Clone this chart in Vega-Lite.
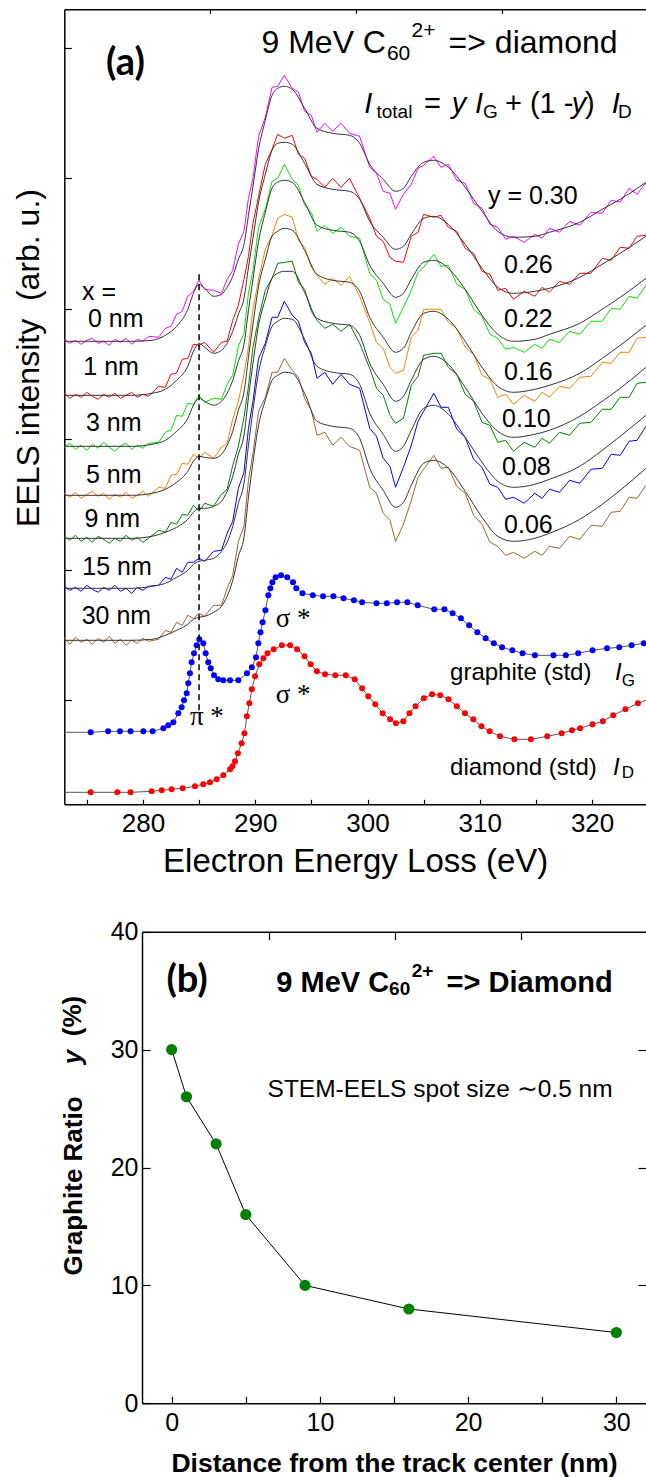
{
"$schema":"https://vega.github.io/schema/vega-lite/v6.json",
"width":646,"height":1477,"autosize":{"type":"none"},"padding":0,"background":"white",
"config":{"view":{"stroke":null},
 "axis":{"grid":false,"domainColor":"#000","tickColor":"#000","labelColor":"#000","titleColor":"#000","labelFont":"Liberation Sans","titleFont":"Liberation Sans","labelFlush":false,"labelOverlap":false,"domainWidth":1.5,"tickWidth":1.2},
 "text":{"font":"Liberation Sans","color":"#000","baseline":"alphabetic","align":"left"}},
"datasets":{
"spec":[
{"c":"m","e":273,"v":465},{"c":"m","e":273.5,"v":461},{"c":"m","e":274,"v":464},{"c":"m","e":274.5,"v":460},{"c":"m","e":275,"v":464},{"c":"m","e":275.5,"v":466},{"c":"m","e":276,"v":461},{"c":"m","e":276.5,"v":463},{"c":"m","e":277,"v":459},{"c":"m","e":277.5,"v":465},{"c":"m","e":278,"v":462},{"c":"m","e":278.5,"v":466},{"c":"m","e":279,"v":460},{"c":"m","e":279.5,"v":465},{"c":"m","e":280,"v":463},{"c":"m","e":280.5,"v":468},{"c":"m","e":281.4,"v":467},{"c":"m","e":282,"v":476},{"c":"m","e":282.5,"v":478},{"c":"m","e":283,"v":490},{"c":"m","e":283.5,"v":493},{"c":"m","e":284,"v":508},{"c":"m","e":284.5,"v":513},{"c":"m","e":285,"v":524},{"c":"m","e":285.5,"v":515},{"c":"m","e":286.3,"v":514},{"c":"m","e":287,"v":511},{"c":"m","e":287.5,"v":525},{"c":"m","e":288,"v":534},{"c":"m","e":288.5,"v":560},{"c":"m","e":289,"v":573},{"c":"m","e":289.4,"v":606},{"c":"m","e":289.8,"v":626},{"c":"m","e":290.3,"v":668},{"c":"m","e":290.9,"v":687},{"c":"m","e":291.5,"v":717},{"c":"m","e":292,"v":718},{"c":"m","e":292.6,"v":729},{"c":"m","e":293.3,"v":716},{"c":"m","e":293.85,"v":712},{"c":"m","e":294.4,"v":693},{"c":"m","e":295,"v":689},{"c":"m","e":295.5,"v":672},{"c":"m","e":296.2,"v":681},{"c":"m","e":296.9,"v":673},{"c":"m","e":297.65,"v":681},{"c":"m","e":298.4,"v":671},{"c":"m","e":299.3,"v":668},{"c":"m","e":300.2,"v":637},{"c":"m","e":300.8,"v":631},{"c":"m","e":301.4,"v":613},{"c":"m","e":302,"v":611},{"c":"m","e":302.5,"v":595},{"c":"m","e":303.2,"v":610},{"c":"m","e":303.9,"v":620},{"c":"m","e":304.5,"v":636},{"c":"m","e":305,"v":639},{"c":"m","e":305.9,"v":648},{"c":"m","e":306.55,"v":637},{"c":"m","e":307.2,"v":640},{"c":"m","e":307.95,"v":624},{"c":"m","e":308.7,"v":621},{"c":"m","e":309.45,"v":601},{"c":"m","e":310.2,"v":596},{"c":"m","e":310.9,"v":580},{"c":"m","e":311.6,"v":577},{"c":"m","e":312.3,"v":565},{"c":"m","e":313,"v":568},{"c":"m","e":313.95,"v":562},{"c":"m","e":314.9,"v":570},{"c":"m","e":315.55,"v":566},{"c":"m","e":316.2,"v":576},{"c":"m","e":317.1,"v":572},{"c":"m","e":318,"v":583},{"c":"m","e":318.9,"v":579},{"c":"m","e":319.9,"v":592},{"c":"m","e":320.9,"v":591},{"c":"m","e":321.7,"v":604},{"c":"m","e":322.5,"v":602},{"c":"m","e":323.3,"v":616},{"c":"m","e":324,"v":610},{"c":"m","e":324.8,"v":622},
{"c":"r","e":273,"v":411},{"c":"r","e":273.5,"v":406},{"c":"r","e":274,"v":410},{"c":"r","e":274.5,"v":407},{"c":"r","e":275,"v":412},{"c":"r","e":275.5,"v":408},{"c":"r","e":276,"v":405},{"c":"r","e":276.5,"v":410},{"c":"r","e":277,"v":407},{"c":"r","e":277.5,"v":411},{"c":"r","e":278,"v":406},{"c":"r","e":278.5,"v":409},{"c":"r","e":279,"v":412},{"c":"r","e":279.5,"v":407},{"c":"r","e":280,"v":410},{"c":"r","e":280.5,"v":408},{"c":"r","e":281.4,"v":418},{"c":"r","e":282,"v":417},{"c":"r","e":282.5,"v":430},{"c":"r","e":283,"v":431},{"c":"r","e":283.5,"v":445},{"c":"r","e":284,"v":446},{"c":"r","e":284.5,"v":460},{"c":"r","e":285,"v":459},{"c":"r","e":285.5,"v":462},{"c":"r","e":286.3,"v":452},{"c":"r","e":287,"v":462},{"c":"r","e":287.5,"v":463},{"c":"r","e":288,"v":484},{"c":"r","e":288.5,"v":499},{"c":"r","e":289,"v":525},{"c":"r","e":289.4,"v":548},{"c":"r","e":289.8,"v":581},{"c":"r","e":290.3,"v":608},{"c":"r","e":290.9,"v":640},{"c":"r","e":291.5,"v":655},{"c":"r","e":292,"v":670},{"c":"r","e":292.6,"v":666},{"c":"r","e":293.3,"v":669},{"c":"r","e":293.85,"v":650},{"c":"r","e":294.4,"v":646},{"c":"r","e":295,"v":628},{"c":"r","e":295.5,"v":625},{"c":"r","e":296.2,"v":617},{"c":"r","e":296.9,"v":626},{"c":"r","e":297.65,"v":617},{"c":"r","e":298.4,"v":626},{"c":"r","e":299.3,"v":606},{"c":"r","e":300.2,"v":586},{"c":"r","e":300.8,"v":568},{"c":"r","e":301.4,"v":563},{"c":"r","e":302,"v":547},{"c":"r","e":302.5,"v":543},{"c":"r","e":303.2,"v":542},{"c":"r","e":303.9,"v":568},{"c":"r","e":304.5,"v":572},{"c":"r","e":305,"v":590},{"c":"r","e":305.9,"v":587},{"c":"r","e":306.55,"v":589},{"c":"r","e":307.2,"v":577},{"c":"r","e":307.95,"v":573},{"c":"r","e":308.7,"v":556},{"c":"r","e":309.45,"v":551},{"c":"r","e":310.2,"v":533},{"c":"r","e":310.9,"v":530},{"c":"r","e":311.6,"v":514},{"c":"r","e":312.3,"v":516},{"c":"r","e":313,"v":505},{"c":"r","e":313.95,"v":513},{"c":"r","e":314.9,"v":508},{"c":"r","e":315.55,"v":517},{"c":"r","e":316.2,"v":512},{"c":"r","e":317.1,"v":523},{"c":"r","e":318,"v":520},{"c":"r","e":318.9,"v":531},{"c":"r","e":319.9,"v":531},{"c":"r","e":320.9,"v":546},{"c":"r","e":321.7,"v":544},{"c":"r","e":322.5,"v":557},{"c":"r","e":323.3,"v":556},{"c":"r","e":324,"v":568},{"c":"r","e":324.8,"v":569},
{"c":"l","e":273,"v":357},{"c":"l","e":273.5,"v":361},{"c":"l","e":274,"v":355},{"c":"l","e":274.5,"v":359},{"c":"l","e":275,"v":354},{"c":"l","e":275.5,"v":360},{"c":"l","e":276,"v":356},{"c":"l","e":276.5,"v":362},{"c":"l","e":277,"v":357},{"c":"l","e":277.5,"v":353},{"c":"l","e":278,"v":358},{"c":"l","e":278.5,"v":361},{"c":"l","e":279,"v":355},{"c":"l","e":279.5,"v":359},{"c":"l","e":280,"v":356},{"c":"l","e":280.5,"v":361},{"c":"l","e":281.4,"v":362},{"c":"l","e":282,"v":372},{"c":"l","e":282.5,"v":374},{"c":"l","e":283,"v":389},{"c":"l","e":283.5,"v":388},{"c":"l","e":284,"v":401},{"c":"l","e":284.5,"v":400},{"c":"l","e":285,"v":409},{"c":"l","e":285.5,"v":402},{"c":"l","e":286.3,"v":406},{"c":"l","e":287,"v":405},{"c":"l","e":287.5,"v":420},{"c":"l","e":288,"v":429},{"c":"l","e":288.5,"v":458},{"c":"l","e":289,"v":471},{"c":"l","e":289.4,"v":511},{"c":"l","e":289.8,"v":534},{"c":"l","e":290.3,"v":577},{"c":"l","e":290.9,"v":595},{"c":"l","e":291.5,"v":623},{"c":"l","e":292,"v":626},{"c":"l","e":292.6,"v":640},{"c":"l","e":293.3,"v":625},{"c":"l","e":293.85,"v":619},{"c":"l","e":294.4,"v":599},{"c":"l","e":295,"v":592},{"c":"l","e":295.5,"v":573},{"c":"l","e":296.2,"v":579},{"c":"l","e":296.9,"v":571},{"c":"l","e":297.65,"v":577},{"c":"l","e":298.4,"v":568},{"c":"l","e":299.3,"v":566},{"c":"l","e":300.2,"v":531},{"c":"l","e":300.8,"v":524},{"c":"l","e":301.4,"v":505},{"c":"l","e":302,"v":500},{"c":"l","e":302.5,"v":481},{"c":"l","e":303.2,"v":497},{"c":"l","e":303.9,"v":514},{"c":"l","e":304.5,"v":532},{"c":"l","e":305,"v":537},{"c":"l","e":305.9,"v":550},{"c":"l","e":306.55,"v":538},{"c":"l","e":307.2,"v":539},{"c":"l","e":307.95,"v":520},{"c":"l","e":308.7,"v":515},{"c":"l","e":309.45,"v":495},{"c":"l","e":310.2,"v":488},{"c":"l","e":310.9,"v":470},{"c":"l","e":311.6,"v":466},{"c":"l","e":312.3,"v":455},{"c":"l","e":313,"v":457},{"c":"l","e":313.95,"v":452},{"c":"l","e":314.9,"v":460},{"c":"l","e":315.55,"v":456},{"c":"l","e":316.2,"v":465},{"c":"l","e":317.1,"v":462},{"c":"l","e":318,"v":473},{"c":"l","e":318.9,"v":470},{"c":"l","e":319.9,"v":483},{"c":"l","e":320.9,"v":483},{"c":"l","e":321.7,"v":496},{"c":"l","e":322.5,"v":495},{"c":"l","e":323.3,"v":508},{"c":"l","e":324,"v":506},{"c":"l","e":324.8,"v":519},
{"c":"o","e":273,"v":311},{"c":"o","e":273.5,"v":307},{"c":"o","e":274,"v":312},{"c":"o","e":274.5,"v":306},{"c":"o","e":275,"v":310},{"c":"o","e":275.5,"v":313},{"c":"o","e":276,"v":308},{"c":"o","e":276.5,"v":311},{"c":"o","e":277,"v":305},{"c":"o","e":277.5,"v":310},{"c":"o","e":278,"v":307},{"c":"o","e":278.5,"v":312},{"c":"o","e":279,"v":306},{"c":"o","e":279.5,"v":309},{"c":"o","e":280,"v":313},{"c":"o","e":280.5,"v":308},{"c":"o","e":281.4,"v":317},{"c":"o","e":282,"v":316},{"c":"o","e":282.5,"v":329},{"c":"o","e":283,"v":330},{"c":"o","e":283.5,"v":341},{"c":"o","e":284,"v":340},{"c":"o","e":284.5,"v":350},{"c":"o","e":285,"v":346},{"c":"o","e":285.5,"v":352},{"c":"o","e":286.3,"v":346},{"c":"o","e":287,"v":357},{"c":"o","e":287.5,"v":361},{"c":"o","e":288,"v":385},{"c":"o","e":288.5,"v":403},{"c":"o","e":289,"v":430},{"c":"o","e":289.4,"v":457},{"c":"o","e":289.8,"v":495},{"c":"o","e":290.3,"v":525},{"c":"o","e":290.9,"v":555},{"c":"o","e":291.5,"v":569},{"c":"o","e":292,"v":586},{"c":"o","e":292.6,"v":590},{"c":"o","e":293.3,"v":587},{"c":"o","e":293.85,"v":564},{"c":"o","e":294.4,"v":557},{"c":"o","e":295,"v":537},{"c":"o","e":295.5,"v":529},{"c":"o","e":296.2,"v":520},{"c":"o","e":296.9,"v":526},{"c":"o","e":297.65,"v":519},{"c":"o","e":298.4,"v":528},{"c":"o","e":299.3,"v":508},{"c":"o","e":300.2,"v":482},{"c":"o","e":300.8,"v":462},{"c":"o","e":301.4,"v":456},{"c":"o","e":302,"v":437},{"c":"o","e":302.5,"v":431},{"c":"o","e":303.2,"v":434},{"c":"o","e":303.9,"v":467},{"c":"o","e":304.5,"v":474},{"c":"o","e":305,"v":495},{"c":"o","e":305.9,"v":495},{"c":"o","e":306.55,"v":495},{"c":"o","e":307.2,"v":482},{"c":"o","e":307.95,"v":476},{"c":"o","e":308.7,"v":457},{"c":"o","e":309.45,"v":450},{"c":"o","e":310.2,"v":429},{"c":"o","e":310.9,"v":425},{"c":"o","e":311.6,"v":407},{"c":"o","e":312.3,"v":410},{"c":"o","e":313,"v":400},{"c":"o","e":313.95,"v":409},{"c":"o","e":314.9,"v":403},{"c":"o","e":315.55,"v":412},{"c":"o","e":316.2,"v":407},{"c":"o","e":317.1,"v":418},{"c":"o","e":318,"v":416},{"c":"o","e":318.9,"v":427},{"c":"o","e":319.9,"v":428},{"c":"o","e":320.9,"v":442},{"c":"o","e":321.7,"v":441},{"c":"o","e":322.5,"v":452},{"c":"o","e":323.3,"v":452},{"c":"o","e":324,"v":466},{"c":"o","e":324.8,"v":467},
{"c":"g","e":273,"v":268},{"c":"g","e":273.5,"v":264},{"c":"g","e":274,"v":269},{"c":"g","e":274.5,"v":263},{"c":"g","e":275,"v":267},{"c":"g","e":275.5,"v":262},{"c":"g","e":276,"v":268},{"c":"g","e":276.5,"v":265},{"c":"g","e":277,"v":261},{"c":"g","e":277.5,"v":266},{"c":"g","e":278,"v":263},{"c":"g","e":278.5,"v":269},{"c":"g","e":279,"v":264},{"c":"g","e":279.5,"v":267},{"c":"g","e":280,"v":262},{"c":"g","e":280.5,"v":266},{"c":"g","e":281.4,"v":274},{"c":"g","e":282,"v":272},{"c":"g","e":282.5,"v":282},{"c":"g","e":283,"v":280},{"c":"g","e":283.5,"v":290},{"c":"g","e":284,"v":289},{"c":"g","e":284.5,"v":299},{"c":"g","e":285,"v":293},{"c":"g","e":285.5,"v":301},{"c":"g","e":286.3,"v":298},{"c":"g","e":287,"v":310},{"c":"g","e":287.5,"v":315},{"c":"g","e":288,"v":339},{"c":"g","e":288.5,"v":358},{"c":"g","e":289,"v":387},{"c":"g","e":289.4,"v":418},{"c":"g","e":289.8,"v":457},{"c":"g","e":290.3,"v":486},{"c":"g","e":290.9,"v":514},{"c":"g","e":291.5,"v":526},{"c":"g","e":292,"v":541},{"c":"g","e":292.6,"v":542},{"c":"g","e":293.3,"v":543},{"c":"g","e":293.85,"v":522},{"c":"g","e":294.4,"v":515},{"c":"g","e":295,"v":493},{"c":"g","e":295.5,"v":484},{"c":"g","e":296.2,"v":476},{"c":"g","e":296.9,"v":480},{"c":"g","e":297.65,"v":473},{"c":"g","e":298.4,"v":480},{"c":"g","e":299.3,"v":461},{"c":"g","e":300.2,"v":436},{"c":"g","e":300.8,"v":416},{"c":"g","e":301.4,"v":409},{"c":"g","e":302,"v":389},{"c":"g","e":302.5,"v":381},{"c":"g","e":303.2,"v":386},{"c":"g","e":303.9,"v":419},{"c":"g","e":304.5,"v":428},{"c":"g","e":305,"v":449},{"c":"g","e":305.9,"v":451},{"c":"g","e":306.55,"v":451},{"c":"g","e":307.2,"v":437},{"c":"g","e":307.95,"v":430},{"c":"g","e":308.7,"v":410},{"c":"g","e":309.45,"v":403},{"c":"g","e":310.2,"v":382},{"c":"g","e":310.9,"v":379},{"c":"g","e":311.6,"v":362},{"c":"g","e":312.3,"v":364},{"c":"g","e":313,"v":353},{"c":"g","e":313.95,"v":362},{"c":"g","e":314.9,"v":357},{"c":"g","e":315.55,"v":366},{"c":"g","e":316.2,"v":361},{"c":"g","e":317.1,"v":372},{"c":"g","e":318,"v":369},{"c":"g","e":318.9,"v":381},{"c":"g","e":319.9,"v":382},{"c":"g","e":320.9,"v":395},{"c":"g","e":321.7,"v":395},{"c":"g","e":322.5,"v":407},{"c":"g","e":323.3,"v":407},{"c":"g","e":324,"v":421},{"c":"g","e":324.8,"v":422},
{"c":"b","e":273,"v":218},{"c":"b","e":273.5,"v":214},{"c":"b","e":274,"v":217},{"c":"b","e":274.5,"v":213},{"c":"b","e":275,"v":219},{"c":"b","e":275.5,"v":215},{"c":"b","e":276,"v":212},{"c":"b","e":276.5,"v":217},{"c":"b","e":277,"v":214},{"c":"b","e":277.5,"v":219},{"c":"b","e":278,"v":213},{"c":"b","e":278.5,"v":216},{"c":"b","e":279,"v":211},{"c":"b","e":279.5,"v":217},{"c":"b","e":280,"v":214},{"c":"b","e":280.5,"v":218},{"c":"b","e":281.4,"v":219},{"c":"b","e":282,"v":227},{"c":"b","e":282.5,"v":225},{"c":"b","e":283,"v":236},{"c":"b","e":283.5,"v":232},{"c":"b","e":284,"v":242},{"c":"b","e":284.5,"v":242},{"c":"b","e":285,"v":246},{"c":"b","e":285.5,"v":243},{"c":"b","e":286.3,"v":253},{"c":"b","e":287,"v":254},{"c":"b","e":287.5,"v":271},{"c":"b","e":288,"v":283},{"c":"b","e":288.5,"v":316},{"c":"b","e":289,"v":332},{"c":"b","e":289.4,"v":376},{"c":"b","e":289.8,"v":403},{"c":"b","e":290.3,"v":446},{"c":"b","e":290.9,"v":461},{"c":"b","e":291.5,"v":487},{"c":"b","e":292,"v":487},{"c":"b","e":292.6,"v":503},{"c":"b","e":293.3,"v":489},{"c":"b","e":293.85,"v":483},{"c":"b","e":294.4,"v":462},{"c":"b","e":295,"v":451},{"c":"b","e":295.5,"v":426},{"c":"b","e":296.2,"v":432},{"c":"b","e":296.9,"v":420},{"c":"b","e":297.65,"v":430},{"c":"b","e":298.4,"v":420},{"c":"b","e":299.3,"v":416},{"c":"b","e":300.2,"v":376},{"c":"b","e":300.8,"v":368},{"c":"b","e":301.4,"v":346},{"c":"b","e":302,"v":338},{"c":"b","e":302.5,"v":317},{"c":"b","e":303.2,"v":337},{"c":"b","e":303.9,"v":359},{"c":"b","e":304.5,"v":383},{"c":"b","e":305,"v":393},{"c":"b","e":305.9,"v":411},{"c":"b","e":306.55,"v":397},{"c":"b","e":307.2,"v":397},{"c":"b","e":307.95,"v":375},{"c":"b","e":308.7,"v":367},{"c":"b","e":309.45,"v":345},{"c":"b","e":310.2,"v":337},{"c":"b","e":310.9,"v":320},{"c":"b","e":311.6,"v":317},{"c":"b","e":312.3,"v":305},{"c":"b","e":313,"v":307},{"c":"b","e":313.95,"v":301},{"c":"b","e":314.9,"v":311},{"c":"b","e":315.55,"v":306},{"c":"b","e":316.2,"v":315},{"c":"b","e":317.1,"v":312},{"c":"b","e":318,"v":324},{"c":"b","e":318.9,"v":321},{"c":"b","e":319.9,"v":335},{"c":"b","e":320.9,"v":336},{"c":"b","e":321.7,"v":350},{"c":"b","e":322.5,"v":349},{"c":"b","e":323.3,"v":363},{"c":"b","e":324,"v":364},{"c":"b","e":324.8,"v":378},
{"c":"n","e":273,"v":166},{"c":"n","e":273.5,"v":160},{"c":"n","e":274,"v":167},{"c":"n","e":274.5,"v":162},{"c":"n","e":275,"v":165},{"c":"n","e":275.5,"v":160},{"c":"n","e":276,"v":166},{"c":"n","e":276.5,"v":162},{"c":"n","e":277,"v":168},{"c":"n","e":277.5,"v":161},{"c":"n","e":278,"v":165},{"c":"n","e":278.5,"v":159},{"c":"n","e":279,"v":164},{"c":"n","e":279.5,"v":161},{"c":"n","e":280,"v":166},{"c":"n","e":280.5,"v":163},{"c":"n","e":281.4,"v":165},{"c":"n","e":282,"v":174},{"c":"n","e":282.5,"v":172},{"c":"n","e":283,"v":182},{"c":"n","e":283.5,"v":179},{"c":"n","e":284,"v":189},{"c":"n","e":284.5,"v":186},{"c":"n","e":285,"v":191},{"c":"n","e":285.5,"v":188},{"c":"n","e":286.3,"v":199},{"c":"n","e":287,"v":199},{"c":"n","e":287.5,"v":216},{"c":"n","e":288,"v":229},{"c":"n","e":288.5,"v":263},{"c":"n","e":289,"v":278},{"c":"n","e":289.4,"v":324},{"c":"n","e":289.8,"v":351},{"c":"n","e":290.3,"v":393},{"c":"n","e":290.9,"v":407},{"c":"n","e":291.5,"v":432},{"c":"n","e":292,"v":432},{"c":"n","e":292.6,"v":446},{"c":"n","e":293.3,"v":434},{"c":"n","e":293.85,"v":427},{"c":"n","e":294.4,"v":406},{"c":"n","e":295,"v":394},{"c":"n","e":295.5,"v":369},{"c":"n","e":296.2,"v":372},{"c":"n","e":296.9,"v":359},{"c":"n","e":297.65,"v":367},{"c":"n","e":298.4,"v":358},{"c":"n","e":299.3,"v":354},{"c":"n","e":300.2,"v":317},{"c":"n","e":300.8,"v":311},{"c":"n","e":301.4,"v":291},{"c":"n","e":302,"v":284},{"c":"n","e":302.5,"v":263},{"c":"n","e":303.2,"v":280},{"c":"n","e":303.9,"v":304},{"c":"n","e":304.5,"v":327},{"c":"n","e":305,"v":335},{"c":"n","e":305.9,"v":349},{"c":"n","e":306.55,"v":336},{"c":"n","e":307.2,"v":337},{"c":"n","e":307.95,"v":318},{"c":"n","e":308.7,"v":311},{"c":"n","e":309.45,"v":289},{"c":"n","e":310.2,"v":280},{"c":"n","e":310.9,"v":262},{"c":"n","e":311.6,"v":258},{"c":"n","e":312.3,"v":249},{"c":"n","e":313,"v":252},{"c":"n","e":313.95,"v":246},{"c":"n","e":314.9,"v":253},{"c":"n","e":315.55,"v":249},{"c":"n","e":316.2,"v":258},{"c":"n","e":317.1,"v":256},{"c":"n","e":318,"v":268},{"c":"n","e":318.9,"v":265},{"c":"n","e":319.9,"v":279},{"c":"n","e":320.9,"v":278},{"c":"n","e":321.7,"v":292},{"c":"n","e":322.5,"v":293},{"c":"n","e":323.3,"v":307},{"c":"n","e":324,"v":306},{"c":"n","e":324.8,"v":319}
],
"fits":[
{"c":"m","e":273,"v":463},{"c":"m","e":276,"v":463},{"c":"m","e":279,"v":463},{"c":"m","e":280.8,"v":464},{"c":"m","e":282,"v":469},{"c":"m","e":283,"v":478},{"c":"m","e":284,"v":495},{"c":"m","e":284.5,"v":511},{"c":"m","e":285,"v":520},{"c":"m","e":285.5,"v":516},{"c":"m","e":286.3,"v":508},{"c":"m","e":287,"v":510},{"c":"m","e":287.5,"v":517},{"c":"m","e":288,"v":528},{"c":"m","e":288.5,"v":545},{"c":"m","e":289,"v":560},{"c":"m","e":289.4,"v":589},{"c":"m","e":289.8,"v":618},{"c":"m","e":290.3,"v":655},{"c":"m","e":290.9,"v":684},{"c":"m","e":291.5,"v":709},{"c":"m","e":292,"v":716},{"c":"m","e":292.6,"v":718},{"c":"m","e":293.3,"v":715},{"c":"m","e":294.4,"v":696},{"c":"m","e":295.5,"v":676},{"c":"m","e":296.9,"v":671},{"c":"m","e":298.4,"v":669},{"c":"m","e":299.3,"v":661},{"c":"m","e":300.2,"v":640},{"c":"m","e":301.4,"v":625},{"c":"m","e":302.5,"v":613},{"c":"m","e":303.2,"v":616},{"c":"m","e":303.9,"v":628},{"c":"m","e":305,"v":642},{"c":"m","e":305.9,"v":644},{"c":"m","e":307.2,"v":637},{"c":"m","e":308.7,"v":617},{"c":"m","e":310.2,"v":593},{"c":"m","e":311.6,"v":573},{"c":"m","e":313,"v":567},{"c":"m","e":314.9,"v":568},{"c":"m","e":316.2,"v":572},{"c":"m","e":318.9,"v":582},{"c":"m","e":320.9,"v":595},{"c":"m","e":322.5,"v":605},{"c":"m","e":324.8,"v":622},
{"c":"r","e":273,"v":409},{"c":"r","e":276,"v":409},{"c":"r","e":279,"v":409},{"c":"r","e":280.8,"v":411},{"c":"r","e":282,"v":415},{"c":"r","e":283,"v":424},{"c":"r","e":284,"v":438},{"c":"r","e":284.5,"v":453},{"c":"r","e":285,"v":461},{"c":"r","e":285.5,"v":457},{"c":"r","e":286.3,"v":451},{"c":"r","e":287,"v":454},{"c":"r","e":287.5,"v":461},{"c":"r","e":288,"v":473},{"c":"r","e":288.5,"v":490},{"c":"r","e":289,"v":506},{"c":"r","e":289.4,"v":537},{"c":"r","e":289.8,"v":566},{"c":"r","e":290.3,"v":602},{"c":"r","e":290.9,"v":630},{"c":"r","e":291.5,"v":654},{"c":"r","e":292,"v":661},{"c":"r","e":292.6,"v":662},{"c":"r","e":293.3,"v":660},{"c":"r","e":294.4,"v":641},{"c":"r","e":295.5,"v":620},{"c":"r","e":296.9,"v":615},{"c":"r","e":298.4,"v":613},{"c":"r","e":299.3,"v":605},{"c":"r","e":300.2,"v":583},{"c":"r","e":301.4,"v":567},{"c":"r","e":302.5,"v":555},{"c":"r","e":303.2,"v":558},{"c":"r","e":303.9,"v":570},{"c":"r","e":305,"v":586},{"c":"r","e":305.9,"v":588},{"c":"r","e":307.2,"v":580},{"c":"r","e":308.7,"v":560},{"c":"r","e":310.2,"v":536},{"c":"r","e":311.6,"v":517},{"c":"r","e":313,"v":511},{"c":"r","e":314.9,"v":513},{"c":"r","e":316.2,"v":516},{"c":"r","e":318.9,"v":527},{"c":"r","e":320.9,"v":540},{"c":"r","e":322.5,"v":551},{"c":"r","e":324.8,"v":568},
{"c":"l","e":273,"v":358},{"c":"l","e":276,"v":358},{"c":"l","e":279,"v":358},{"c":"l","e":280.8,"v":360},{"c":"l","e":282,"v":364},{"c":"l","e":283,"v":373},{"c":"l","e":284,"v":386},{"c":"l","e":284.5,"v":399},{"c":"l","e":285,"v":406},{"c":"l","e":285.5,"v":403},{"c":"l","e":286.3,"v":399},{"c":"l","e":287,"v":403},{"c":"l","e":287.5,"v":411},{"c":"l","e":288,"v":424},{"c":"l","e":288.5,"v":443},{"c":"l","e":289,"v":460},{"c":"l","e":289.4,"v":494},{"c":"l","e":289.8,"v":525},{"c":"l","e":290.3,"v":563},{"c":"l","e":290.9,"v":592},{"c":"l","e":291.5,"v":616},{"c":"l","e":292,"v":622},{"c":"l","e":292.6,"v":624},{"c":"l","e":293.3,"v":622},{"c":"l","e":294.4,"v":602},{"c":"l","e":295.5,"v":579},{"c":"l","e":296.9,"v":574},{"c":"l","e":298.4,"v":572},{"c":"l","e":299.3,"v":563},{"c":"l","e":300.2,"v":539},{"c":"l","e":301.4,"v":521},{"c":"l","e":302.5,"v":507},{"c":"l","e":303.2,"v":511},{"c":"l","e":303.9,"v":525},{"c":"l","e":305,"v":542},{"c":"l","e":305.9,"v":544},{"c":"l","e":307.2,"v":536},{"c":"l","e":308.7,"v":515},{"c":"l","e":310.2,"v":489},{"c":"l","e":311.6,"v":470},{"c":"l","e":313,"v":463},{"c":"l","e":314.9,"v":465},{"c":"l","e":316.2,"v":470},{"c":"l","e":318.9,"v":481},{"c":"l","e":320.9,"v":495},{"c":"l","e":322.5,"v":507},{"c":"l","e":324.8,"v":526},
{"c":"o","e":273,"v":309},{"c":"o","e":276,"v":309},{"c":"o","e":279,"v":309},{"c":"o","e":280.8,"v":311},{"c":"o","e":282,"v":315},{"c":"o","e":283,"v":322},{"c":"o","e":284,"v":333},{"c":"o","e":284.5,"v":343},{"c":"o","e":285,"v":348},{"c":"o","e":285.5,"v":347},{"c":"o","e":286.3,"v":346},{"c":"o","e":287,"v":350},{"c":"o","e":287.5,"v":359},{"c":"o","e":288,"v":373},{"c":"o","e":288.5,"v":394},{"c":"o","e":289,"v":412},{"c":"o","e":289.4,"v":447},{"c":"o","e":289.8,"v":480},{"c":"o","e":290.3,"v":518},{"c":"o","e":290.9,"v":545},{"c":"o","e":291.5,"v":568},{"c":"o","e":292,"v":573},{"c":"o","e":292.6,"v":576},{"c":"o","e":293.3,"v":574},{"c":"o","e":294.4,"v":554},{"c":"o","e":295.5,"v":530},{"c":"o","e":296.9,"v":524},{"c":"o","e":298.4,"v":522},{"c":"o","e":299.3,"v":513},{"c":"o","e":300.2,"v":487},{"c":"o","e":301.4,"v":467},{"c":"o","e":302.5,"v":452},{"c":"o","e":303.2,"v":456},{"c":"o","e":303.9,"v":472},{"c":"o","e":305,"v":491},{"c":"o","e":305.9,"v":493},{"c":"o","e":307.2,"v":485},{"c":"o","e":308.7,"v":463},{"c":"o","e":310.2,"v":437},{"c":"o","e":311.6,"v":418},{"c":"o","e":313,"v":412},{"c":"o","e":314.9,"v":415},{"c":"o","e":316.2,"v":419},{"c":"o","e":318.9,"v":431},{"c":"o","e":320.9,"v":446},{"c":"o","e":322.5,"v":459},{"c":"o","e":324.8,"v":479},
{"c":"g","e":273,"v":266},{"c":"g","e":276,"v":266},{"c":"g","e":279,"v":266},{"c":"g","e":280.8,"v":268},{"c":"g","e":282,"v":272},{"c":"g","e":283,"v":277},{"c":"g","e":284,"v":285},{"c":"g","e":284.5,"v":292},{"c":"g","e":285,"v":296},{"c":"g","e":285.5,"v":296},{"c":"g","e":286.3,"v":298},{"c":"g","e":287,"v":303},{"c":"g","e":287.5,"v":313},{"c":"g","e":288,"v":328},{"c":"g","e":288.5,"v":350},{"c":"g","e":289,"v":369},{"c":"g","e":289.4,"v":407},{"c":"g","e":289.8,"v":441},{"c":"g","e":290.3,"v":479},{"c":"g","e":290.9,"v":505},{"c":"g","e":291.5,"v":526},{"c":"g","e":292,"v":531},{"c":"g","e":292.6,"v":533},{"c":"g","e":293.3,"v":533},{"c":"g","e":294.4,"v":512},{"c":"g","e":295.5,"v":486},{"c":"g","e":296.9,"v":481},{"c":"g","e":298.4,"v":479},{"c":"g","e":299.3,"v":469},{"c":"g","e":300.2,"v":441},{"c":"g","e":301.4,"v":420},{"c":"g","e":302.5,"v":403},{"c":"g","e":303.2,"v":408},{"c":"g","e":303.9,"v":424},{"c":"g","e":305,"v":445},{"c":"g","e":305.9,"v":448},{"c":"g","e":307.2,"v":440},{"c":"g","e":308.7,"v":417},{"c":"g","e":310.2,"v":391},{"c":"g","e":311.6,"v":373},{"c":"g","e":313,"v":367},{"c":"g","e":314.9,"v":370},{"c":"g","e":316.2,"v":374},{"c":"g","e":318.9,"v":388},{"c":"g","e":320.9,"v":403},{"c":"g","e":322.5,"v":416},{"c":"g","e":324.8,"v":437},
{"c":"b","e":273,"v":216},{"c":"b","e":276,"v":216},{"c":"b","e":279,"v":216},{"c":"b","e":280.8,"v":218},{"c":"b","e":282,"v":221},{"c":"b","e":283,"v":227},{"c":"b","e":284,"v":234},{"c":"b","e":284.5,"v":240},{"c":"b","e":285,"v":243},{"c":"b","e":285.5,"v":244},{"c":"b","e":286.3,"v":246},{"c":"b","e":287,"v":253},{"c":"b","e":287.5,"v":262},{"c":"b","e":288,"v":278},{"c":"b","e":288.5,"v":301},{"c":"b","e":289,"v":321},{"c":"b","e":289.4,"v":359},{"c":"b","e":289.8,"v":394},{"c":"b","e":290.3,"v":432},{"c":"b","e":290.9,"v":458},{"c":"b","e":291.5,"v":478},{"c":"b","e":292,"v":483},{"c":"b","e":292.6,"v":486},{"c":"b","e":293.3,"v":485},{"c":"b","e":294.4,"v":465},{"c":"b","e":295.5,"v":438},{"c":"b","e":296.9,"v":432},{"c":"b","e":298.4,"v":430},{"c":"b","e":299.3,"v":420},{"c":"b","e":300.2,"v":391},{"c":"b","e":301.4,"v":370},{"c":"b","e":302.5,"v":353},{"c":"b","e":303.2,"v":358},{"c":"b","e":303.9,"v":374},{"c":"b","e":305,"v":396},{"c":"b","e":305.9,"v":399},{"c":"b","e":307.2,"v":390},{"c":"b","e":308.7,"v":367},{"c":"b","e":310.2,"v":342},{"c":"b","e":311.6,"v":323},{"c":"b","e":313,"v":317},{"c":"b","e":314.9,"v":320},{"c":"b","e":316.2,"v":325},{"c":"b","e":318.9,"v":338},{"c":"b","e":320.9,"v":354},{"c":"b","e":322.5,"v":368},{"c":"b","e":324.8,"v":389},
{"c":"n","e":273,"v":164},{"c":"n","e":276,"v":164},{"c":"n","e":279,"v":164},{"c":"n","e":280.8,"v":165},{"c":"n","e":282,"v":169},{"c":"n","e":283,"v":174},{"c":"n","e":284,"v":180},{"c":"n","e":284.5,"v":185},{"c":"n","e":285,"v":187},{"c":"n","e":285.5,"v":188},{"c":"n","e":286.3,"v":192},{"c":"n","e":287,"v":198},{"c":"n","e":287.5,"v":208},{"c":"n","e":288,"v":224},{"c":"n","e":288.5,"v":248},{"c":"n","e":289,"v":267},{"c":"n","e":289.4,"v":307},{"c":"n","e":289.8,"v":342},{"c":"n","e":290.3,"v":379},{"c":"n","e":290.9,"v":404},{"c":"n","e":291.5,"v":424},{"c":"n","e":292,"v":429},{"c":"n","e":292.6,"v":432},{"c":"n","e":293.3,"v":431},{"c":"n","e":294.4,"v":411},{"c":"n","e":295.5,"v":383},{"c":"n","e":296.9,"v":378},{"c":"n","e":298.4,"v":376},{"c":"n","e":299.3,"v":366},{"c":"n","e":300.2,"v":336},{"c":"n","e":301.4,"v":314},{"c":"n","e":302.5,"v":297},{"c":"n","e":303.2,"v":302},{"c":"n","e":303.9,"v":319},{"c":"n","e":305,"v":341},{"c":"n","e":305.9,"v":344},{"c":"n","e":307.2,"v":336},{"c":"n","e":308.7,"v":313},{"c":"n","e":310.2,"v":287},{"c":"n","e":311.6,"v":268},{"c":"n","e":313,"v":263},{"c":"n","e":314.9,"v":266},{"c":"n","e":316.2,"v":271},{"c":"n","e":318.9,"v":285},{"c":"n","e":320.9,"v":300},{"c":"n","e":322.5,"v":314},{"c":"n","e":324.8,"v":336}
],
"std":[
{"c":"G","e":273,"v":72},{"c":"G","e":275.35,"v":72},{"c":"G","e":276.9,"v":73},{"c":"G","e":277.96,"v":73},{"c":"G","e":278.9,"v":73},{"c":"G","e":280.04,"v":73},{"c":"G","e":280.87,"v":73},{"c":"G","e":281.82,"v":76},{"c":"G","e":282.26,"v":79},{"c":"G","e":282.71,"v":82},{"c":"G","e":283.15,"v":91},{"c":"G","e":283.45,"v":97},{"c":"G","e":283.66,"v":104},{"c":"G","e":283.9,"v":111},{"c":"G","e":284.04,"v":121},{"c":"G","e":284.19,"v":131},{"c":"G","e":284.34,"v":142},{"c":"G","e":284.55,"v":151},{"c":"G","e":284.79,"v":159},{"c":"G","e":285.02,"v":165},{"c":"G","e":285.38,"v":161},{"c":"G","e":285.59,"v":151},{"c":"G","e":285.82,"v":142},{"c":"G","e":286.04,"v":136},{"c":"G","e":286.33,"v":129},{"c":"G","e":286.71,"v":125},{"c":"G","e":287.16,"v":124},{"c":"G","e":287.76,"v":124},{"c":"G","e":288.5,"v":124},{"c":"G","e":289.27,"v":131},{"c":"G","e":289.7,"v":137},{"c":"G","e":290.07,"v":147},{"c":"G","e":290.28,"v":161},{"c":"G","e":290.47,"v":172},{"c":"G","e":290.66,"v":182},{"c":"G","e":290.91,"v":194},{"c":"G","e":291.17,"v":209},{"c":"G","e":291.35,"v":216},{"c":"G","e":291.53,"v":222},{"c":"G","e":291.82,"v":227},{"c":"G","e":292.3,"v":229},{"c":"G","e":292.85,"v":227},{"c":"G","e":293.37,"v":222},{"c":"G","e":293.66,"v":216},{"c":"G","e":294.21,"v":211},{"c":"G","e":295.13,"v":209},{"c":"G","e":296.04,"v":208},{"c":"G","e":296.96,"v":208},{"c":"G","e":297.87,"v":206},{"c":"G","e":298.79,"v":204},{"c":"G","e":299.52,"v":202},{"c":"G","e":300.8,"v":201},{"c":"G","e":301.72,"v":201},{"c":"G","e":302.63,"v":202},{"c":"G","e":303.55,"v":202},{"c":"G","e":304.47,"v":199},{"c":"G","e":305.94,"v":195},{"c":"G","e":306.85,"v":195},{"c":"G","e":307.58,"v":191},{"c":"G","e":308.32,"v":186},{"c":"G","e":309.05,"v":179},{"c":"G","e":309.78,"v":172},{"c":"G","e":310.52,"v":166},{"c":"G","e":311.25,"v":161},{"c":"G","e":311.98,"v":157},{"c":"G","e":312.9,"v":154},{"c":"G","e":313.81,"v":151},{"c":"G","e":314.91,"v":149},{"c":"G","e":316.56,"v":149},{"c":"G","e":317.66,"v":149},{"c":"G","e":318.76,"v":151},{"c":"G","e":320.04,"v":154},{"c":"G","e":321.33,"v":156},{"c":"G","e":322.42,"v":157},{"c":"G","e":323.52,"v":159},{"c":"G","e":324.6,"v":161},
{"c":"D","e":273,"v":12},{"c":"D","e":275.35,"v":12},{"c":"D","e":277.72,"v":12},{"c":"D","e":278.9,"v":12},{"c":"D","e":280.78,"v":13},{"c":"D","e":281.67,"v":14},{"c":"D","e":282.56,"v":15},{"c":"D","e":283.54,"v":16},{"c":"D","e":284.64,"v":18},{"c":"D","e":285.38,"v":20},{"c":"D","e":285.97,"v":22},{"c":"D","e":286.57,"v":25},{"c":"D","e":287.16,"v":29},{"c":"D","e":287.76,"v":35},{"c":"D","e":287.98,"v":38},{"c":"D","e":288.2,"v":43},{"c":"D","e":288.46,"v":51},{"c":"D","e":288.79,"v":61},{"c":"D","e":289.04,"v":71},{"c":"D","e":289.26,"v":88},{"c":"D","e":289.48,"v":101},{"c":"D","e":289.7,"v":115},{"c":"D","e":289.99,"v":128},{"c":"D","e":290.36,"v":140},{"c":"D","e":290.73,"v":146},{"c":"D","e":291.09,"v":151},{"c":"D","e":291.65,"v":155},{"c":"D","e":292.38,"v":159},{"c":"D","e":293.11,"v":159},{"c":"D","e":293.73,"v":155},{"c":"D","e":294.39,"v":148},{"c":"D","e":294.94,"v":140},{"c":"D","e":295.49,"v":133},{"c":"D","e":296.22,"v":130},{"c":"D","e":297.14,"v":129},{"c":"D","e":298.06,"v":129},{"c":"D","e":298.86,"v":125},{"c":"D","e":299.52,"v":116},{"c":"D","e":300.07,"v":108},{"c":"D","e":300.69,"v":100},{"c":"D","e":301.35,"v":91},{"c":"D","e":302.01,"v":85},{"c":"D","e":302.53,"v":81},{"c":"D","e":303.19,"v":83},{"c":"D","e":303.74,"v":91},{"c":"D","e":304.28,"v":98},{"c":"D","e":305.02,"v":106},{"c":"D","e":305.75,"v":110},{"c":"D","e":306.48,"v":109},{"c":"D","e":307.22,"v":105},{"c":"D","e":307.95,"v":98},{"c":"D","e":308.68,"v":91},{"c":"D","e":309.42,"v":85},{"c":"D","e":310.15,"v":78},{"c":"D","e":310.88,"v":73},{"c":"D","e":311.8,"v":68},{"c":"D","e":313.08,"v":65},{"c":"D","e":314.55,"v":65},{"c":"D","e":316.01,"v":68},{"c":"D","e":317.29,"v":71},{"c":"D","e":318.21,"v":74},{"c":"D","e":318.94,"v":76},{"c":"D","e":320.04,"v":80},{"c":"D","e":320.96,"v":83},{"c":"D","e":321.88,"v":89},{"c":"D","e":322.97,"v":95},{"c":"D","e":324.08,"v":101},{"c":"D","e":324.8,"v":104}
],
"ratio":[{"d":0,"r":30},{"d":1,"r":26},{"d":3,"r":22},{"d":5,"r":16},{"d":9,"r":10},{"d":16,"r":8},{"d":30,"r":6}],
"annA":[
{"g":"lab","t":"y = 0.30","e":310.73,"v":600.3},{"g":"lab","t":"0.26","e":312.16,"v":531},{"g":"lab","t":"0.22","e":312.16,"v":477.6},{"g":"lab","t":"0.16","e":312.16,"v":424.3},{"g":"lab","t":"0.10","e":311.98,"v":377.6},{"g":"lab","t":"0.08","e":311.98,"v":329.3},{"g":"lab","t":"0.06","e":312.16,"v":271.3},
{"g":"lab","t":"x =","e":274.58,"v":504.3},{"g":"lab","t":"0 nm","e":275.11,"v":477.6},{"g":"lab","t":"1 nm","e":274.69,"v":429.3},{"g":"lab","t":"3 nm","e":274.93,"v":373.6},{"g":"lab","t":"5 nm","e":274.93,"v":321.6},{"g":"lab","t":"9 nm","e":274.79,"v":277.6},{"g":"lab","t":"15 nm","e":274.6,"v":229.3},{"g":"lab","t":"30 nm","e":274.55,"v":180},
{"g":"std","t":"graphite (std)","e":307.35,"v":124.3},{"g":"std","t":"diamond (std)","e":307.35,"v":29.3},
{"g":"stdi","t":"I","e":322.04,"v":124.3},{"g":"stdi","t":"I","e":321.86,"v":29.3},
{"g":"stds","t":"G","e":322.63,"v":118.3},{"g":"stds","t":"D","e":322.63,"v":26.3},
{"g":"greek","t":"σ *","e":291.82,"v":177.3},{"g":"greek","t":"σ *","e":291.82,"v":101.3},{"g":"greek","t":"π *","e":284.19,"v":79.3},
{"g":"head","t":"9 MeV C","e":290.56,"v":751},{"g":"head","t":"=> diamond","e":307.22,"v":751},
{"g":"hsub","t":"60","e":301.73,"v":744},{"g":"hsub","t":"2+","e":303.92,"v":767.6},
{"g":"panel","t":"(a)","e":278.45,"v":729.3},
{"g":"fm","t":"=","e":305.02,"v":691},{"g":"fm","t":"+ (1 -","e":312.24,"v":691},{"g":"fm","t":")","e":319.37,"v":691},
{"g":"fi","t":"I","e":299.7,"v":691},{"g":"fi","t":"y","e":307.5,"v":691},{"g":"fi","t":"I","e":309.57,"v":691},{"g":"fi","t":"y","e":318.18,"v":691},{"g":"fi","t":"I","e":321.74,"v":691},
{"g":"fs","t":"total","e":300.8,"v":686},{"g":"fs","t":"G","e":310.28,"v":686},{"g":"fs","t":"D","e":322.31,"v":686}
],
"annB":[
{"g":"panel","t":"(b)","d":1.04,"r":34.91},
{"g":"head","t":"9 MeV C","d":7.06,"r":34.91},{"g":"head","t":"=> Diamond","d":18.55,"r":34.91},
{"g":"hsub","t":"60","d":14.67,"r":34.63},{"g":"hsub","t":"2+","d":16.19,"r":36.18},
{"g":"note","t":"STEM-EELS spot size ∼0.5 nm","d":6.47,"r":26.0},
{"g":"yi","t":"y","d":-5.78,"r":29.37},{"g":"yp","t":"(%)","d":-5.78,"r":32.85}
]
},
"layer":[
{"layer":[
 {"data":{"name":"spec"},"mark":{"type":"line","strokeWidth":1},"encoding":{
   "x":{"field":"e","type":"quantitative","scale":{"domain":[273,324.8],"range":[64.3,646],"nice":false,"zero":false},
     "axis":{"orient":"bottom","offset":-672.7,"values":[275,280,285,290,295,300,305,310,315,320],"labelExpr":"datum.value % 10 === 0 ? datum.label : ''","tickSize":-5,"labelPadding":11,"labelFontSize":26,"title":"Electron Energy Loss (eV)","titleFontSize":33,"titleFontWeight":"normal","titleY":67.4,"titleBaseline":"alphabetic"}},
   "y":{"field":"v","type":"quantitative","scale":{"domain":[0,795],"range":[804.3,9.3],"nice":false,"zero":false},
     "axis":{"orient":"left","offset":-64.3,"values":[104.3,234.7,365.1,495.5,625.9,756.3],"labels":false,"tickSize":-7,"title":"EELS intensity\u00a0\u00a0(arb. u.)","titleFontSize":32,"titleFontWeight":"normal","titleX":-19,"titleY":357.5,"titleAngle":270,"titleAlign":"center","titleBaseline":"bottom"}},
   "color":{"field":"c","type":"nominal","scale":{"domain":["m","r","l","o","g","b","n"],"range":["#ff00ff","#ff0000","#00e600","#ff8000","#008000","#0000ff","#996633"]},"legend":null}}},
 {"data":{"name":"fits"},"mark":{"type":"line","strokeWidth":1,"color":"#333333","interpolate":"monotone"},"encoding":{
   "x":{"field":"e","type":"quantitative","axis":{"orient":"top","offset":-9.3,"values":[286,299,312],"labels":false,"tickSize":-4,"title":null}},
   "y":{"field":"v","type":"quantitative"},"detail":{"field":"c"}}},
 {"data":{"name":"std"},"mark":{"type":"line","strokeWidth":1,"color":"#555555"},"encoding":{
   "x":{"field":"e","type":"quantitative","axis":null},"y":{"field":"v","type":"quantitative"},"detail":{"field":"c"}}},
 {"data":{"name":"std"},"transform":[{"filter":"datum.c === 'G' && datum.e > 274"}],"mark":{"type":"circle","size":36,"color":"#0000ff","opacity":1},"encoding":{
   "x":{"field":"e","type":"quantitative","axis":null},"y":{"field":"v","type":"quantitative"}}},
 {"data":{"name":"std"},"transform":[{"filter":"datum.c === 'D' && datum.e > 274 && datum.e < 324.7"}],"mark":{"type":"circle","size":36,"color":"#ff0000","opacity":1},"encoding":{
   "x":{"field":"e","type":"quantitative","axis":null},"y":{"field":"v","type":"quantitative"}}},
 {"data":{"values":[{"e":285,"v":94,"v2":534}]},"mark":{"type":"rule","strokeDash":[6,4],"strokeWidth":1.5,"color":"#000000"},"encoding":{
   "x":{"field":"e","type":"quantitative","axis":null},"y":{"field":"v","type":"quantitative"},"y2":{"field":"v2"}}},
 {"data":{"name":"annA"},"transform":[{"filter":"datum.g === 'lab'"}],"mark":{"type":"text","fontSize":25},"encoding":{"x":{"field":"e","type":"quantitative","axis":null},"y":{"field":"v","type":"quantitative"},"text":{"field":"t"}}},
 {"data":{"name":"annA"},"transform":[{"filter":"datum.g === 'std'"}],"mark":{"type":"text","fontSize":24},"encoding":{"x":{"field":"e","type":"quantitative","axis":null},"y":{"field":"v","type":"quantitative"},"text":{"field":"t"}}},
 {"data":{"name":"annA"},"transform":[{"filter":"datum.g === 'stdi'"}],"mark":{"type":"text","fontSize":24,"fontStyle":"italic"},"encoding":{"x":{"field":"e","type":"quantitative","axis":null},"y":{"field":"v","type":"quantitative"},"text":{"field":"t"}}},
 {"data":{"name":"annA"},"transform":[{"filter":"datum.g === 'stds'"}],"mark":{"type":"text","fontSize":17},"encoding":{"x":{"field":"e","type":"quantitative","axis":null},"y":{"field":"v","type":"quantitative"},"text":{"field":"t"}}},
 {"data":{"name":"annA"},"transform":[{"filter":"datum.g === 'greek'"}],"mark":{"type":"text","fontSize":27,"font":"Liberation Serif"},"encoding":{"x":{"field":"e","type":"quantitative","axis":null},"y":{"field":"v","type":"quantitative"},"text":{"field":"t"}}},
 {"data":{"name":"annA"},"transform":[{"filter":"datum.g === 'head'"}],"mark":{"type":"text","fontSize":32},"encoding":{"x":{"field":"e","type":"quantitative","axis":null},"y":{"field":"v","type":"quantitative"},"text":{"field":"t"}}},
 {"data":{"name":"annA"},"transform":[{"filter":"datum.g === 'hsub'"}],"mark":{"type":"text","fontSize":21},"encoding":{"x":{"field":"e","type":"quantitative","axis":null},"y":{"field":"v","type":"quantitative"},"text":{"field":"t"}}},
 {"data":{"name":"annA"},"transform":[{"filter":"datum.g === 'panel'"}],"mark":{"type":"text","fontSize":38,"font":"Lato","fontWeight":"bold","align":"center"},"encoding":{"x":{"field":"e","type":"quantitative","axis":null},"y":{"field":"v","type":"quantitative"},"text":{"field":"t"}}},
 {"data":{"name":"annA"},"transform":[{"filter":"datum.g === 'fm'"}],"mark":{"type":"text","fontSize":29},"encoding":{"x":{"field":"e","type":"quantitative","axis":null},"y":{"field":"v","type":"quantitative"},"text":{"field":"t"}}},
 {"data":{"name":"annA"},"transform":[{"filter":"datum.g === 'fi'"}],"mark":{"type":"text","fontSize":29,"fontStyle":"italic"},"encoding":{"x":{"field":"e","type":"quantitative","axis":null},"y":{"field":"v","type":"quantitative"},"text":{"field":"t"}}},
 {"data":{"name":"annA"},"transform":[{"filter":"datum.g === 'fs'"}],"mark":{"type":"text","fontSize":19},"encoding":{"x":{"field":"e","type":"quantitative","axis":null},"y":{"field":"v","type":"quantitative"},"text":{"field":"t"}}}
],"resolve":{"axis":{"x":"independent"}}},
{"layer":[
 {"data":{"name":"ratio"},"mark":{"type":"line","color":"#000000","strokeWidth":1},"encoding":{
   "x":{"field":"d","type":"quantitative","scale":{"domain":[-2,32],"range":[142,646],"nice":false,"zero":false},
     "axis":{"orient":"bottom","offset":-73.7,"values":[0,5,10,15,20,25,30],"labelExpr":"datum.value % 10 === 0 ? datum.label : ''","tickSize":-7,"labelPadding":14,"labelFontSize":25,"title":"Distance from the track center (nm)","titleFontSize":26.5,"titleFontWeight":"bold","titleY":68.4,"titleBaseline":"alphabetic"}},
   "y":{"field":"r","type":"quantitative","scale":{"domain":[0,40],"range":[1403.3,931.7],"nice":false,"zero":false},
     "axis":{"orient":"left","offset":-142,"values":[0,10,20,30,40],"tickSize":-8,"labelPadding":12,"labelFontSize":25,"title":"Graphite Ratio","titleFontSize":26,"titleFontWeight":"bold","titleX":-56,"titleY":1185.5,"titleAngle":270,"titleAlign":"center","titleBaseline":"bottom"}}}},
 {"data":{"name":"ratio"},"mark":{"type":"circle","size":125,"color":"#008000","opacity":1},"encoding":{
   "x":{"field":"d","type":"quantitative","axis":null},"y":{"field":"r","type":"quantitative","axis":null}}},
 {"data":{"name":"ratio"},"mark":{"type":"point","opacity":0},"encoding":{
   "x":{"field":"d","type":"quantitative","axis":{"orient":"top","offset":-931.7,"values":[6.6,15.1,23.6],"labels":false,"tickSize":-8,"title":null}},
   "y":{"field":"r","type":"quantitative","axis":{"orient":"right","offset":0,"values":[10,20,30],"labels":false,"tickSize":-8,"domain":false,"title":null}}}},
 {"data":{"name":"annB"},"transform":[{"filter":"datum.g === 'panel'"}],"mark":{"type":"text","fontSize":38,"font":"Lato","fontWeight":"bold","align":"center"},"encoding":{"x":{"field":"d","type":"quantitative","axis":null},"y":{"field":"r","type":"quantitative","axis":null},"text":{"field":"t"}}},
 {"data":{"name":"annB"},"transform":[{"filter":"datum.g === 'head'"}],"mark":{"type":"text","fontSize":29,"fontWeight":"bold"},"encoding":{"x":{"field":"d","type":"quantitative","axis":null},"y":{"field":"r","type":"quantitative","axis":null},"text":{"field":"t"}}},
 {"data":{"name":"annB"},"transform":[{"filter":"datum.g === 'hsub'"}],"mark":{"type":"text","fontSize":19,"fontWeight":"bold"},"encoding":{"x":{"field":"d","type":"quantitative","axis":null},"y":{"field":"r","type":"quantitative","axis":null},"text":{"field":"t"}}},
 {"data":{"name":"annB"},"transform":[{"filter":"datum.g === 'note'"}],"mark":{"type":"text","fontSize":24.5},"encoding":{"x":{"field":"d","type":"quantitative","axis":null},"y":{"field":"r","type":"quantitative","axis":null},"text":{"field":"t"}}},
 {"data":{"name":"annB"},"transform":[{"filter":"datum.g === 'yi'"}],"mark":{"type":"text","fontSize":26,"fontWeight":"bold","fontStyle":"italic","angle":270,"align":"center","baseline":"bottom"},"encoding":{"x":{"field":"d","type":"quantitative","axis":null},"y":{"field":"r","type":"quantitative","axis":null},"text":{"field":"t"}}},
 {"data":{"name":"annB"},"transform":[{"filter":"datum.g === 'yp'"}],"mark":{"type":"text","fontSize":26,"fontWeight":"bold","angle":270,"align":"center","baseline":"bottom"},"encoding":{"x":{"field":"d","type":"quantitative","axis":null},"y":{"field":"r","type":"quantitative","axis":null},"text":{"field":"t"}}}
],"resolve":{"axis":{"x":"independent","y":"independent"}}}
],
"resolve":{"scale":{"x":"independent","y":"independent"},"axis":{"x":"independent","y":"independent"}}
}
